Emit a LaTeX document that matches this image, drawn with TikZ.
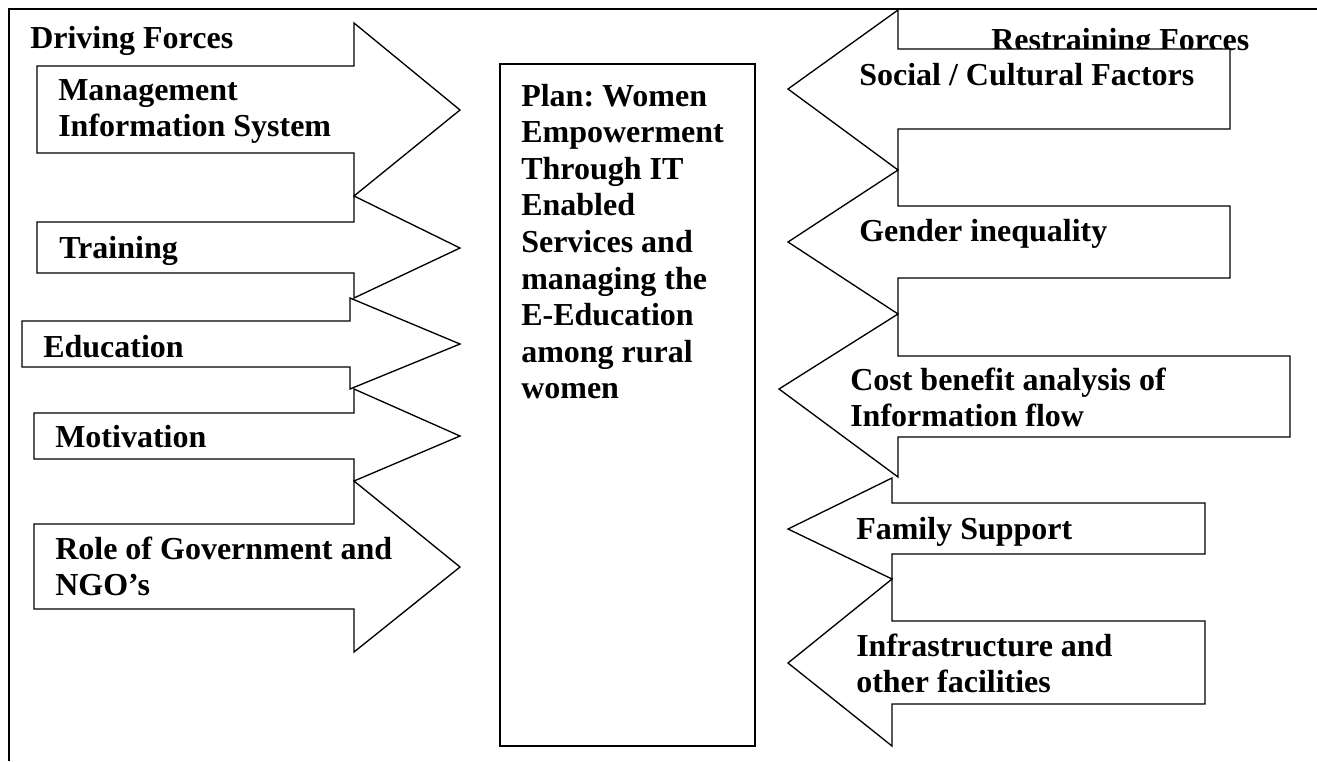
\documentclass[tikz,border=0pt]{standalone}
\usepackage{fontspec}
\setmainfont{Liberation Serif}
\usetikzlibrary{fit}
\frenchspacing
\newcommand\dfont{\bfseries\fontsize{24}{27.45}\selectfont}
\tikzset{
  frameline/.style={line width=1.5pt},
  blockarrow/.style={draw, fill=white, line width=1pt, line join=miter},
  planbox/.style={draw, line width=1.3pt, inner sep=0pt},
  lbl/.style={anchor=base west, inner sep=0pt, font=\dfont},
}
\begin{document}
\begin{tikzpicture}[x=0.75pt, y=-0.75pt]
\useasboundingbox (0,0) rectangle (1317,761);
% frame
\coordinate (fbl) at (9,761);
\coordinate (ftl) at (9,9);
\coordinate (ftr) at (1317,9);
\draw[frameline] (fbl) -- (ftl) -- (ftr);

% ---------- driving forces (left) ----------
\node[lbl] (driving) at (30,48) {Driving Forces};
\draw[blockarrow] (37,66) -- (354,66) -- (354,23) -- (460,110) -- (354,196) -- (354,153) -- (37,153) -- cycle;
\draw[blockarrow] (37,222) -- (354,222) -- (354,196) -- (460,248) -- (354,298) -- (354,273) -- (37,273) -- cycle;
\draw[blockarrow] (22,321) -- (350,321) -- (350,298) -- (460,344) -- (350,389) -- (350,367) -- (22,367) -- cycle;
\draw[blockarrow] (34,413) -- (354,413) -- (354,389) -- (460,436) -- (354,481) -- (354,459) -- (34,459) -- cycle;
\draw[blockarrow] (34,524) -- (354,524) -- (354,481) -- (460,567) -- (354,652) -- (354,609) -- (34,609) -- cycle;

\node[lbl] (mis) at (58,100) {\vtop{\hbox{Management}\hbox{Information System}}};
\node[lbl] (training) at (59,258) {Training};
\node[lbl] (education) at (43,357) {Education};
\node[lbl] (motivation) at (55,447) {Motivation};
\node[lbl] (role) at (55,559) {\vtop{\hbox{Role of Government and}\hbox{NGO’s}}};

% ---------- plan (centre) ----------
\coordinate (pnw) at (500,64);
\coordinate (pse) at (755,746);
\node[planbox, fit=(pnw)(pse)] (plan) {};
\node[lbl] (plantext) at (521,106) {\vtop{\hbox{Plan: Women}\hbox{Empowerment}\hbox{Through IT}\hbox{Enabled}\hbox{Services and}\hbox{managing the}\hbox{E-Education}\hbox{among rural}\hbox{women}}};

% ---------- restraining forces (right) ----------
\node[lbl] (restraining) at (991,50) {Restraining Forces};
\draw[blockarrow] (1230,49) -- (898,49) -- (898,10) -- (788,89) -- (898,170) -- (898,129) -- (1230,129) -- cycle;
\draw[blockarrow] (1230,206) -- (898,206) -- (898,170) -- (788,242) -- (898,314) -- (898,278) -- (1230,278) -- cycle;
\draw[blockarrow] (1290,356) -- (898,356) -- (898,314) -- (779,389) -- (898,477) -- (898,437) -- (1290,437) -- cycle;
\draw[blockarrow] (1205,503) -- (892,503) -- (892,478) -- (788,529) -- (892,579) -- (892,554) -- (1205,554) -- cycle;
\draw[blockarrow] (1205,621) -- (892,621) -- (892,579) -- (788,663) -- (892,746) -- (892,704) -- (1205,704) -- cycle;

\node[lbl] (social) at (859,85) {Social / Cultural Factors};
\node[lbl] (gender) at (859,241) {Gender inequality};
\node[lbl] (cost) at (850,390) {\vtop{\hbox{Cost benefit analysis of}\hbox{Information flow}}};
\node[lbl] (family) at (856,539) {Family Support};
\node[lbl] (infra) at (856,656) {\vtop{\hbox{Infrastructure and}\hbox{other facilities}}};
\end{tikzpicture}
\end{document}
